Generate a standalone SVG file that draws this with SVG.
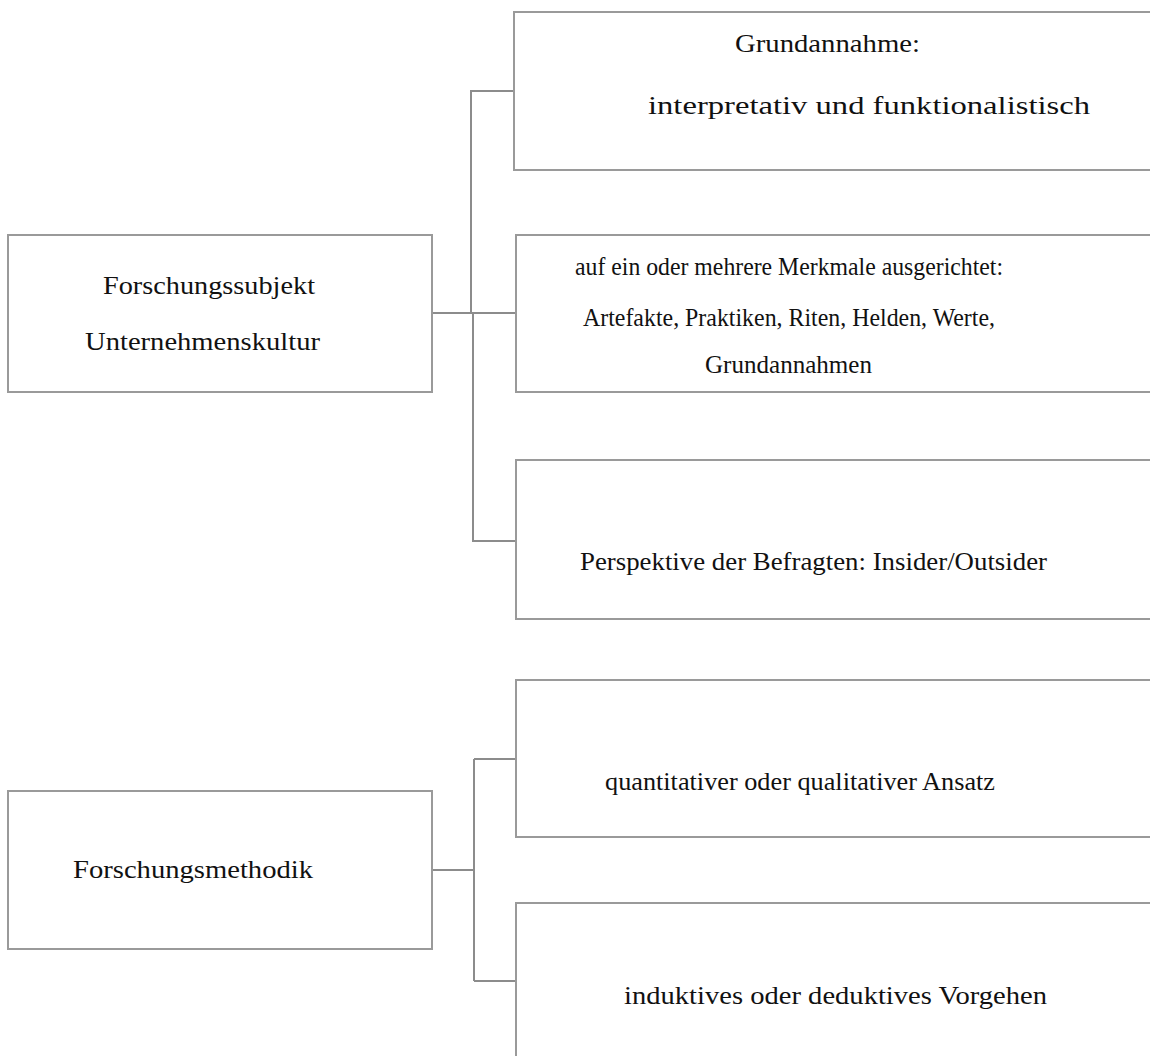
<svg xmlns="http://www.w3.org/2000/svg" width="1150" height="1056" viewBox="0 0 1150 1056">
<style>
.box{fill:#ffffff;stroke:#9a9a9a;stroke-width:2}
.con{fill:none;stroke:#8c8c8c;stroke-width:2}
.t{font-family:"Liberation Serif","Times New Roman",serif;font-size:26px;fill:#111111}
</style>
<rect width="1150" height="1056" fill="#ffffff"/>
<g id="connectors">
<path class="con" d="M432 313H516M471 313V91H514M473 313V541H516"/>
<path class="con" d="M432 870H474M474 759V981M474 759H516M474 981H516"/>
</g>
<g id="node-subjekt">
<rect class="box" x="8" y="235" width="424" height="157"/>
<text class="t" x="103" y="294" textLength="212" lengthAdjust="spacingAndGlyphs">Forschungssubjekt</text>
<text class="t" x="85" y="350" textLength="235" lengthAdjust="spacingAndGlyphs">Unternehmenskultur</text>
</g>
<g id="node-grundannahme">
<rect class="box" x="514" y="12" width="700" height="158"/>
<text class="t" x="735" y="52" textLength="185" lengthAdjust="spacingAndGlyphs">Grundannahme:</text>
<text class="t" x="648" y="114" textLength="442" lengthAdjust="spacingAndGlyphs">interpretativ und funktionalistisch</text>
</g>
<g id="node-merkmale">
<rect class="box" x="516" y="235" width="700" height="157"/>
<text class="t" x="575" y="275" textLength="428" lengthAdjust="spacingAndGlyphs">auf ein oder mehrere Merkmale ausgerichtet:</text>
<text class="t" x="583" y="326" textLength="412" lengthAdjust="spacingAndGlyphs">Artefakte, Praktiken, Riten, Helden, Werte,</text>
<text class="t" x="705" y="373" textLength="167" lengthAdjust="spacingAndGlyphs">Grundannahmen</text>
</g>
<g id="node-perspektive">
<rect class="box" x="516" y="460" width="700" height="159"/>
<text class="t" x="580" y="570" textLength="467" lengthAdjust="spacingAndGlyphs">Perspektive der Befragten: Insider/Outsider</text>
</g>
<g id="node-methodik">
<rect class="box" x="8" y="791" width="424" height="158"/>
<text class="t" x="73" y="878" textLength="240" lengthAdjust="spacingAndGlyphs">Forschungsmethodik</text>
</g>
<g id="node-ansatz">
<rect class="box" x="516" y="680" width="700" height="157"/>
<text class="t" x="605" y="790" textLength="390" lengthAdjust="spacingAndGlyphs">quantitativer oder qualitativer Ansatz</text>
</g>
<g id="node-vorgehen">
<rect class="box" x="516" y="903" width="700" height="200"/>
<text class="t" x="624" y="1004" textLength="423" lengthAdjust="spacingAndGlyphs">induktives oder deduktives Vorgehen</text>
</g>
</svg>
